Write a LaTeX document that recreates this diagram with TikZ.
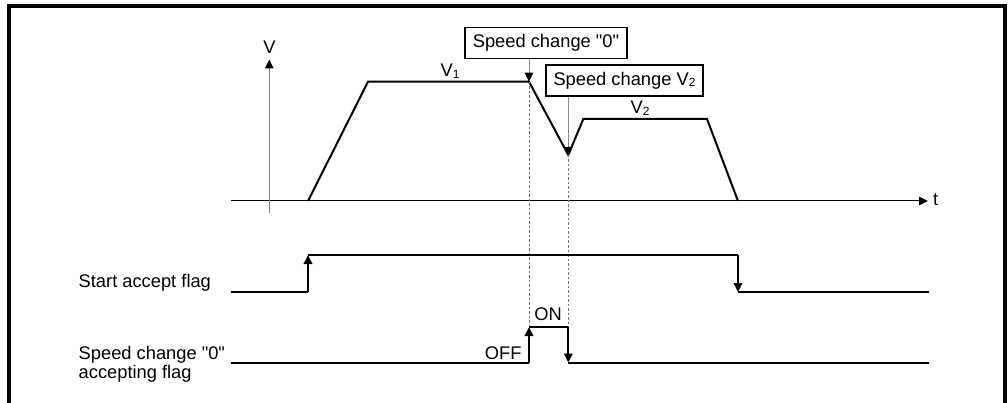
\documentclass[tikz,border=0pt]{standalone}
\usepackage{fontspec}
\setmainfont{Liberation Sans}[Ligatures=TeXOff]
\usetikzlibrary{arrows.meta}
\newcommand{\mysub}[1]{\raisebox{-1.5pt}{\fontsize{12}{12}\selectfont #1}}
\begin{document}
\begin{tikzpicture}[x=1pt,y=-1pt,
  every node/.style={font=\fontsize{18.3}{19}\selectfont, inner sep=0pt},
  lbl/.style={anchor=base west},
  wave/.style={line width=2pt, line join=miter},
  flag/.style={line width=2pt, line join=miter},
  tip/.style={-{Triangle[length=9pt,width=8.5pt,color=black]}},
  axisline/.style={line width=1pt},
  callbox/.style={draw, line width=1.4pt, minimum height=31pt, inner xsep=6pt},
  callarrow/.style={line width=0.9pt, draw=black!45, tip},
  guide/.style={line width=0.8pt, draw=black!55, dash pattern=on 2.5pt off 2pt},
  frame/.style={line width=3.8pt}]
\useasboundingbox (0,0) rectangle (1008,403);
% frame
\draw[frame] (8.7,403) -- (8.7,5.7) -- (1005,5.7) -- (1005,403);
% coordinates
\coordinate (o0) at (308,201);
\coordinate (a1) at (368,81.7);
\coordinate (v1c) at (529,81.7);
\coordinate (val) at (568.3,155);
\coordinate (a2) at (583.3,119);
\coordinate (b2) at (707,119);
\coordinate (o1) at (738,201);
\coordinate (tstart) at (231,201);
\coordinate (tend) at (928,201);
\coordinate (vbot) at (269.3,213);
\coordinate (vtop) at (269.3,59.5);
% axes
\draw[axisline, tip] (tstart) -- (tend);
\draw[axisline, draw=black!50, tip] (vbot) -- (vtop);
\node[lbl] (tlab) at (933,206) {t};
\node[lbl, anchor=base] (vlab) at (269.5,53.5) {V};
% speed waveform
\draw[wave] (o0) -- (a1) -- (v1c) -- (val) -- (a2) -- (b2) -- (o1);
\node[anchor=base] (v1lab) at (450,77) {V\mysub{1}};
\node[anchor=base] (v2lab) at (640,114) {V\mysub{2}};
% callout boxes
\node[callbox, minimum width=162pt] (box1) at (546,42.8) {Speed change "0"};
\node[callbox, minimum width=157pt] (box2) at (624.5,80.7) {Speed change V\mysub{2}};
\draw[callarrow] (box1.south -| v1c) -- (v1c);
\draw[callarrow] (box2.south -| val) -- ([yshift=-1pt]val);
% guides
\coordinate (on1) at (529,327);
\coordinate (on2) at (568.3,327);
\draw[guide] (v1c) -- (on1);
\draw[guide] (val) -- (on2);
% start accept flag
\coordinate (s0) at (231,292);
\coordinate (s1) at (308,292);
\coordinate (s2) at (308,255);
\coordinate (s3) at (738,255);
\coordinate (s4) at (738,292);
\coordinate (s5) at (929,292);
\draw[flag] (s0) -- (s1);
\draw[flag, tip] (s1) -- (s2);
\draw[flag] (s2) -- (s3);
\draw[flag, tip] (s3) -- (s4);
\draw[flag] (s4) -- (s5);
\node[lbl] (salab) at (78.5,287.5) {Start accept flag};
% speed change 0 accepting flag
\coordinate (z0) at (231,362.5);
\coordinate (z1) at (529,362.5);
\coordinate (z4) at (568.3,362.5);
\coordinate (z5) at (929,362.5);
\draw[flag] (z0) -- (z1);
\draw[flag, tip] (z1) -- (on1);
\draw[flag] (on1) -- (on2);
\draw[flag, tip] (on2) -- (z4);
\draw[flag] (z4) -- (z5);
\node[lbl] (sclab) at (78.5,359.5) {Speed change "0"};
\node[lbl] (sclab2) at (78.5,378) {accepting flag};
\node[anchor=base east] (offlab) at (521.7,359.3) {OFF};
\node[anchor=base] (onlab) at (548,320.7) {ON};
\end{tikzpicture}
\end{document}
